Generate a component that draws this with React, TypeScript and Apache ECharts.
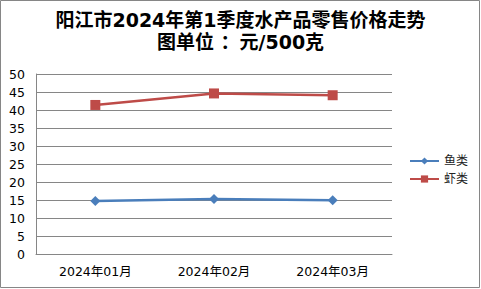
import React, { useEffect, useRef } from "react";
import * as echarts from "echarts";

const categories = ["2024年01月", "2024年02月", "2024年03月"];
const fishValues = [14.7, 15.3, 14.9];
const shrimpValues = [41.4, 44.6, 44.1];
const seriesNames = ["鱼类", "虾类"];
const titleLines = ["阳江市2024年第1季度水产品零售价格走势", "图单位 ：元/500克"];

export default function App() {
  const ref = useRef<HTMLDivElement>(null);
  useEffect(() => {
    if (!ref.current) return;
    const chart = echarts.init(ref.current, null, { renderer: "svg" });
    const font = "'DejaVu Sans', 'Noto Sans CJK SC', sans-serif";
    const titleStyle = {
      fontFamily: font,
      fontSize: 19,
      fontWeight: "bold",
      color: "#000",
    };
    chart.setOption({
      animation: false,
      backgroundColor: "#ffffff",
      textStyle: { fontFamily: font },
      title: [
        { text: titleLines[0], left: "center", top: 10, padding: 0, textStyle: titleStyle },
        { text: titleLines[1], left: "center", top: 32, padding: 0, textStyle: titleStyle },
      ],
      graphic: [
        {
          type: "rect",
          shape: { x: 0.5, y: 0.5, width: 479, height: 287 },
          style: { fill: "none", stroke: "#868686", lineWidth: 1 },
          silent: true,
        },
      ],
      legend: {
        orient: "vertical",
        left: 404,
        top: 150,
        itemWidth: 29,
        itemHeight: 9,
        itemGap: 6,
        textStyle: { fontFamily: font, fontSize: 12, color: "#222" },
        data: seriesNames,
      },
      grid: { left: 36, right: 89, top: 74, bottom: 35, containLabel: false },
      xAxis: {
        type: "category",
        data: categories,
        boundaryGap: true,
        axisLine: { show: true, lineStyle: { color: "#868686", width: 1 } },
        axisTick: { show: false },
        axisLabel: { fontFamily: font, fontSize: 12.5, color: "#000", margin: 11 },
      },
      yAxis: {
        type: "value",
        min: 0,
        max: 50,
        interval: 5,
        axisLine: { show: true, lineStyle: { color: "#868686", width: 1 } },
        axisTick: { show: false },
        splitLine: { show: true, lineStyle: { color: "#868686", width: 1 } },
        axisLabel: { fontFamily: font, fontSize: 12.5, color: "#000", margin: 11 },
      },
      series: [
        {
          name: seriesNames[0],
          type: "line",
          data: fishValues,
          symbol: "diamond",
          symbolSize: 10,
          lineStyle: { color: "#4a7ebb", width: 2.5 },
          itemStyle: { color: "#4a7ebb" },
        },
        {
          name: seriesNames[1],
          type: "line",
          data: shrimpValues,
          symbol: "rect",
          symbolSize: 10,
          lineStyle: { color: "#be4b48", width: 2.5 },
          itemStyle: { color: "#be4b48" },
        },
      ],
    });
    return () => chart.dispose();
  }, []);
  return (
    <div
      ref={ref}
      style={{ position: "absolute", left: 0, top: 0, width: 481, height: 289 }}
    />
  );
}
